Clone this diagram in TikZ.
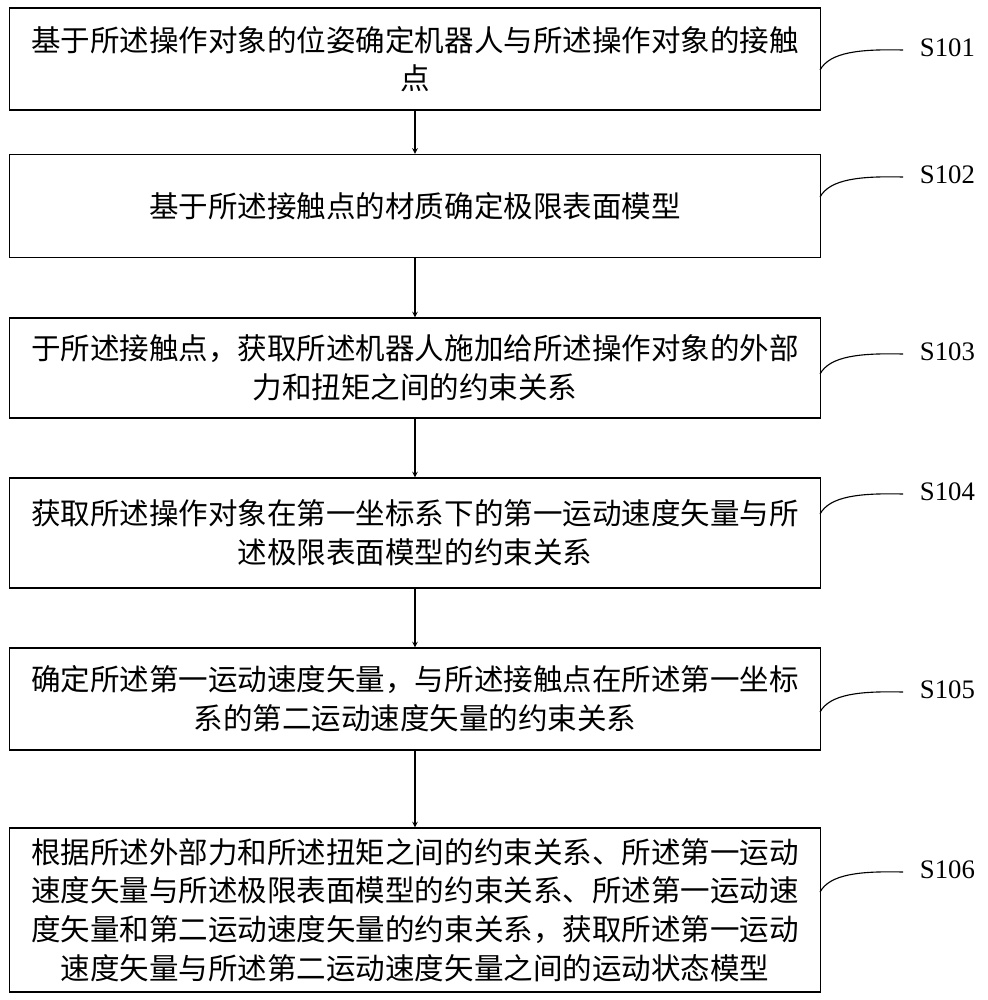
\documentclass[tikz,border=0pt]{standalone}
\usepackage{fontspec}
\setmainfont{Noto Sans CJK SC}
\newfontfamily\labelfont{Liberation Serif}
\usetikzlibrary{positioning}
\begin{document}
\begin{tikzpicture}[x=0.025cm,y=-0.025cm,->,>=stealth,
  step box/.style={draw,thick,minimum width=20.25cm,text width=19.9cm,align=center,
    font=\fontsize{21}{27.5}\selectfont,inner sep=0pt},
  step label/.style={font=\labelfont\fontsize{19}{20}\selectfont,anchor=west},
  tag line/.style={-,thick}]
  \useasboundingbox (0,0) rectangle (987,1000);

  \node[step box,minimum height=2.55cm] (b1) at (415,59) {基于所述操作对象的位姿确定机器人与所述操作对象的接触\\点};
  \node[step box,minimum height=2.58cm] (b2) at (415,206) {基于所述接触点的材质确定极限表面模型};
  \node[step box,minimum height=2.5cm] (b3) at (415,368) {于所述接触点，获取所述机器人施加给所述操作对象的外部\\力和扭矩之间的约束关系};
  \node[step box,minimum height=2.75cm] (b4) at (415,533) {获取所述操作对象在第一坐标系下的第一运动速度矢量与所\\述极限表面模型的约束关系};
  \node[step box,minimum height=2.55cm] (b5) at (415,699) {确定所述第一运动速度矢量，与所述接触点在所述第一坐标\\系的第二运动速度矢量的约束关系};
  \node[step box,minimum height=4.1cm] (b6) at (415,910) {根据所述外部力和所述扭矩之间的约束关系、所述第一运动\\速度矢量与所述极限表面模型的约束关系、所述第一运动速\\度矢量和第二运动速度矢量的约束关系，获取所述第一运动\\速度矢量与所述第二运动速度矢量之间的运动状态模型};

  \foreach \i/\ly in {1/48,2/175,3/352,4/492,5/690,6/870} {
    \node[step label] (s\i) at (915,\ly) {S10\i};
    \coordinate (t\i) at (903,\ly+2);
    \draw[tag line] (820,\ly+22) .. controls (830,\ly+4) and (860,\ly+1) .. (t\i);
  }

  \foreach \a/\b in {b1/b2,b2/b3,b3/b4,b4/b5,b5/b6}
    \draw[thick] (\a) -- (\b);
\end{tikzpicture}
\end{document}
